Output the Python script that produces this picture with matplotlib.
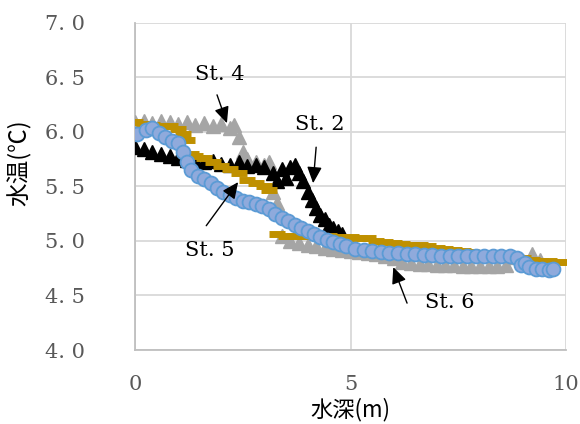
import matplotlib
matplotlib.use("Agg")
import matplotlib.pyplot as plt
from matplotlib.ticker import FixedLocator, FuncFormatter

plt.rcParams['font.family'] = ['DejaVu Serif', 'Noto Sans CJK JP', 'DejaVu Sans']

# St.2 (black triangles)
st2_depth = [0.0, 0.2, 0.4, 0.6, 0.8, 1.0, 1.2, 1.4, 1.6, 1.8, 2.0, 2.2, 2.4, 2.6, 2.8,
             3.0, 3.2, 3.3, 3.4, 3.5, 3.6, 3.7, 3.8, 3.9, 4.0, 4.1, 4.2, 4.3, 4.4, 4.5,
             4.6, 4.7, 4.8]
st2_temp = [5.86, 5.84, 5.82, 5.80, 5.78, 5.76, 5.74, 5.73, 5.72, 5.73, 5.71, 5.70, 5.72, 5.69, 5.70,
            5.68, 5.62, 5.55, 5.66, 5.58, 5.68, 5.70, 5.62, 5.55, 5.45, 5.38, 5.30, 5.24, 5.20, 5.15,
            5.12, 5.09, 5.06]

# St.4 (gray triangles)
st4_depth = [0.0, 0.2, 0.4, 0.6, 0.8, 1.0, 1.2, 1.4, 1.6, 1.8, 2.0, 2.2, 2.3, 2.4, 2.5,
             2.6, 2.8, 3.0, 3.1, 3.2, 3.3, 3.4, 3.6, 3.8, 4.0, 4.2, 4.4, 4.6, 4.8, 5.0,
             5.2, 5.4, 5.6, 5.8, 6.0, 6.2, 6.4, 6.6, 6.8, 7.0, 7.2, 7.4, 7.6, 7.8, 8.0,
             8.2, 8.4, 8.6, 8.8, 9.0, 9.2, 9.4]
st4_temp = [6.09, 6.10, 6.08, 6.10, 6.09, 6.07, 6.09, 6.06, 6.08, 6.05, 6.07, 6.04, 6.06, 5.95, 5.82,
            5.75, 5.72, 5.70, 5.72, 5.45, 5.35, 5.05, 5.00, 4.98, 4.96, 4.95, 4.94, 4.93, 4.92, 4.91,
            4.90, 4.89, 4.88, 4.86, 4.84, 4.81, 4.80, 4.79, 4.79, 4.78, 4.78, 4.78, 4.77, 4.77, 4.77,
            4.77, 4.77, 4.78, 4.85, 4.82, 4.88, 4.83]

# St.5 (gold dashes)
st5_depth = [0.0, 0.2, 0.4, 0.6, 0.8, 1.0, 1.1, 1.2, 1.3, 1.4, 1.6, 1.8, 2.0, 2.2, 2.4,
             2.6, 2.8, 3.0, 3.1, 3.3, 3.5, 3.7, 3.9, 4.1, 4.3, 4.5, 4.7, 4.8, 5.0, 5.2,
             5.4, 5.6, 5.8, 6.0, 6.2, 6.4, 6.6, 6.8, 7.0, 7.2, 7.4, 7.6, 7.8, 8.0, 8.2,
             8.4, 8.6, 8.8, 9.0, 9.2, 9.4, 9.6, 9.8, 10.0]
st5_temp = [6.09, 6.07, 6.06, 6.05, 6.05, 6.03, 5.98, 5.93, 5.80, 5.78, 5.76, 5.72, 5.69, 5.66, 5.62,
            5.56, 5.53, 5.50, 5.47, 5.06, 5.05, 5.05, 5.05, 5.05, 5.05, 5.05, 5.04, 5.04, 5.04, 5.03,
            5.03, 5.00, 4.99, 4.98, 4.97, 4.96, 4.96, 4.95, 4.94, 4.93, 4.92, 4.91, 4.90, 4.89, 4.88,
            4.87, 4.86, 4.85, 4.84, 4.83, 4.82, 4.82, 4.81, 4.81]

# St.6 (blue circles)
st6_depth = [0.05, 0.25, 0.4, 0.55, 0.7, 0.85, 1.0, 1.1, 1.2, 1.3, 1.45, 1.6, 1.75, 1.9, 2.05,
             2.2, 2.35, 2.5, 2.65, 2.8, 2.95, 3.1, 3.25, 3.4, 3.55, 3.7, 3.85, 4.0, 4.15, 4.3,
             4.45, 4.6, 4.75, 4.9, 5.1, 5.3, 5.5, 5.7, 5.9, 6.1, 6.3, 6.5, 6.7, 6.9, 7.1,
             7.3, 7.5, 7.7, 7.9, 8.1, 8.3, 8.5, 8.7, 8.85, 8.95, 9.05, 9.15, 9.3, 9.45, 9.6,
             9.7]
st6_temp = [5.98, 6.02, 6.04, 5.99, 5.95, 5.92, 5.90, 5.82, 5.72, 5.65, 5.60, 5.57, 5.53, 5.49, 5.45,
            5.42, 5.39, 5.37, 5.36, 5.34, 5.32, 5.29, 5.25, 5.21, 5.18, 5.15, 5.12, 5.09, 5.06, 5.04,
            5.01, 4.99, 4.97, 4.95, 4.93, 4.92, 4.91, 4.90, 4.89, 4.89, 4.88, 4.88, 4.87, 4.87, 4.86,
            4.86, 4.86, 4.86, 4.86, 4.86, 4.86, 4.86, 4.86, 4.84, 4.78, 4.80, 4.76, 4.74, 4.74, 4.73,
            4.74]

x_ticks = [0, 5, 10]
y_ticks = [4.0, 4.5, 5.0, 5.5, 6.0, 6.5, 7.0]

# label text, text position, arrow tail, arrow head
LABELS = [("St. 4", (1.97, 6.53), (1.90, 6.34), (2.13, 6.08)),
          ("St. 2", (4.29, 6.07), (4.20, 5.86), (4.13, 5.53)),
          ("St. 5", (1.74, 4.91), (1.65, 5.14), (2.39, 5.54)),
          ("St. 6", (7.31, 4.44), (6.31, 4.43), (5.99, 4.76))]

GRID = '#d9d9d9'
TICK_COLOR = '#595959'
CJK = ['Noto Sans CJK JP', 'DejaVu Sans']

fig = plt.figure(figsize=(5.8, 4.24), dpi=100)
ax = fig.add_axes([0.233, 0.1745, 0.743, 0.7715])

ax.plot(st4_depth, st4_temp, linestyle='none', marker='^', markersize=10.5,
        color='#a5a5a5', zorder=3)
ax.plot(st2_depth, st2_temp, linestyle='none', marker='^', markersize=10.5,
        color='black', zorder=4)
ax.plot(st5_depth, st5_temp, linestyle='none', marker='_', markersize=12,
        markeredgewidth=5, color='#bf9000', zorder=5)
ax.plot(st6_depth, st6_temp, linestyle='none', marker='o', markersize=10,
        markerfacecolor='#8faadc', markeredgecolor='#5b9bd5', markeredgewidth=1.3, zorder=6)

for text, pos, tail, head in LABELS:
    ax.text(pos[0], pos[1], text, ha='center', va='center', fontsize=15, color='black', zorder=8)
    ax.annotate('', xy=head, xytext=tail,
                arrowprops=dict(arrowstyle='-|>,head_length=0.55,head_width=0.25',
                                mutation_scale=18, color='black', lw=1, shrinkA=0, shrinkB=0),
                zorder=8)

ax.set_xlim(0, 10)
ax.set_ylim(4.0, 7.0)
ax.xaxis.set_major_locator(FixedLocator(x_ticks))
ax.yaxis.set_major_locator(FixedLocator(y_ticks))
ax.yaxis.set_major_formatter(FuncFormatter(lambda v, p: "{0:.1f}".format(v).replace(".", ". ")))
ax.xaxis.set_major_formatter(FuncFormatter(lambda v, p: "{0:d}".format(int(v))))

ax.grid(True, color=GRID, linewidth=1.3, zorder=0)
ax.set_axisbelow(True)
for side in ['top', 'right']:
    ax.spines[side].set_visible(False)
for side in ['left', 'bottom']:
    ax.spines[side].set_color('#bfbfbf')
    ax.spines[side].set_linewidth(1.3)

ax.tick_params(axis='both', length=0, labelsize=15, labelcolor=TICK_COLOR)
ax.tick_params(axis='y', pad=36)
ax.tick_params(axis='x', pad=18)

ax.set_xlabel("水深(m)", fontsize=16, family=CJK)
ax.xaxis.set_label_coords(0.5, -0.145)
ax.set_ylabel("水温(℃)", fontsize=17, family=CJK)
ax.yaxis.set_label_coords(-0.24, 0.572)

fig.savefig("out.png", dpi=100)
